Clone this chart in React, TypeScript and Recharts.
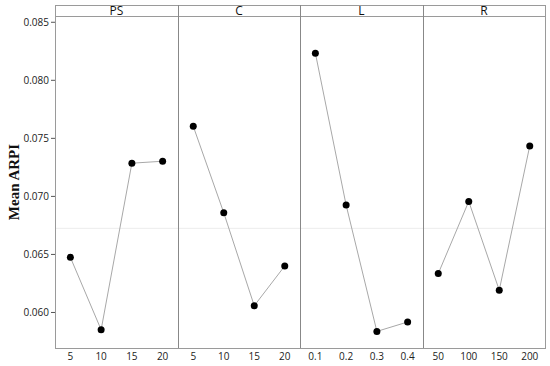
import React from 'react';
import { LineChart, Line, XAxis, YAxis, ReferenceLine } from 'recharts';

const FACTORS = ['PS', 'C', 'L', 'R'];
const PS_LEVELS = ['5', '10', '15', '20'];
const PS_MEANS = [0.06475, 0.05851, 0.07286, 0.07303];
const C_LEVELS = ['5', '10', '15', '20'];
const C_MEANS = [0.07604, 0.06859, 0.06058, 0.06401];
const L_LEVELS = ['0.1', '0.2', '0.3', '0.4'];
const L_MEANS = [0.08234, 0.06925, 0.05837, 0.05918];
const R_LEVELS = ['50', '100', '150', '200'];
const R_MEANS = [0.06335, 0.06957, 0.06192, 0.07435];
const GRAND_MEAN = 0.06725;
const Y_TICKS = [0.06, 0.065, 0.07, 0.075, 0.08, 0.085];
const Y_DOMAIN: [number, number] = [0.05694, 0.08554];

const PANELS = [
  { levels: PS_LEVELS, means: PS_MEANS },
  { levels: C_LEVELS, means: C_MEANS },
  { levels: L_LEVELS, means: L_MEANS },
  { levels: R_LEVELS, means: R_MEANS },
];

const BOUNDS = [55, 178, 300, 423, 545];
const TOP = 16;
const BOTTOM = 348;
const H = 366;
const FONT = '"Open Sans", "Noto Sans", sans-serif';
const FRAME = '#9a9a9a';

function Panel({ idx }: { idx: number }) {
  const p = PANELS[idx];
  const data = p.levels.map((l, i) => ({ i: i + 1, label: l, mean: p.means[i] }));
  const first = idx === 0;
  const left = first ? 0 : BOUNDS[idx];
  const width = BOUNDS[idx + 1] - left;
  return (
    <div style={{ position: 'absolute', left, top: 0 }}>
      <LineChart
        width={width}
        height={H}
        data={data}
        margin={{ top: TOP, right: 0, bottom: 0, left: 0 }}
      >
        <XAxis
          dataKey="i"
          type="number"
          domain={[0.5, 4.5]}
          ticks={[1, 2, 3, 4]}
          tickFormatter={(v: number) => p.levels[v - 1]}
          height={H - BOTTOM}
          axisLine={false}
          tickLine={false}
          tickSize={3}
          tickMargin={2}
          tick={{ fontSize: 10, fill: '#222', fontFamily: FONT }}
          interval={0}
        />
        <YAxis
          type="number"
          domain={Y_DOMAIN}
          ticks={Y_TICKS}
          hide={!first}
          width={first ? 55 : 0}
          axisLine={false}
          tickSize={4}
          tickMargin={2}
          tickLine={{ stroke: '#555' }}
          tickFormatter={(v: number) => v.toFixed(3)}
          tick={{ fontSize: 10, fill: '#222', fontFamily: FONT }}
          allowDataOverflow
        />
        <ReferenceLine y={GRAND_MEAN} stroke="#ececec" strokeWidth={1} />
        <Line
          dataKey="mean"
          stroke="#a8a8a8"
          strokeWidth={1}
          dot={{ r: 3.5, fill: '#000', stroke: '#000', strokeWidth: 0 }}
          isAnimationActive={false}
        />
      </LineChart>
    </div>
  );
}

export default function App() {
  return (
    <div
      style={{
        position: 'absolute',
        left: 0,
        top: 0,
        width: 550,
        height: H,
        background: '#fff',
        fontFamily: FONT,
      }}
    >
      {PANELS.map((_, i) => (
        <Panel key={i} idx={i} />
      ))}
      <div
        style={{
          position: 'absolute',
          left: BOUNDS[0],
          top: 5,
          width: BOUNDS[4] - BOUNDS[0] + 1,
          height: BOTTOM - 5 + 1,
          boxSizing: 'border-box',
          border: `1px solid ${FRAME}`,
          pointerEvents: 'none',
        }}
      />
      <div
        style={{
          position: 'absolute',
          left: BOUNDS[0],
          top: TOP,
          width: BOUNDS[4] - BOUNDS[0] + 1,
          height: 1,
          background: FRAME,
        }}
      />
      {[1, 2, 3].map((k) => (
        <div
          key={k}
          style={{
            position: 'absolute',
            left: BOUNDS[k],
            top: 5,
            width: 1,
            height: BOTTOM - 5,
            background: '#888',
          }}
        />
      ))}
      {FACTORS.map((f, k) => (
        <div
          key={f}
          style={{
            position: 'absolute',
            left: BOUNDS[k],
            top: 4,
            width: BOUNDS[k + 1] - BOUNDS[k],
            height: 12,
            lineHeight: '13px',
            fontSize: 12,
            textAlign: 'center',
            color: '#111',
          }}
        >
          {f}
        </div>
      ))}
      <div
        style={{
          position: 'absolute',
          left: 14,
          top: (TOP + BOTTOM) / 2,
          transform: 'translate(-50%, -50%) rotate(-90deg)',
          whiteSpace: 'nowrap',
          fontFamily: '"Liberation Serif", "DejaVu Serif", serif',
          fontWeight: 'bold',
          fontSize: 15,
          color: '#111',
        }}
      >
        Mean ARPI
      </div>
    </div>
  );
}
